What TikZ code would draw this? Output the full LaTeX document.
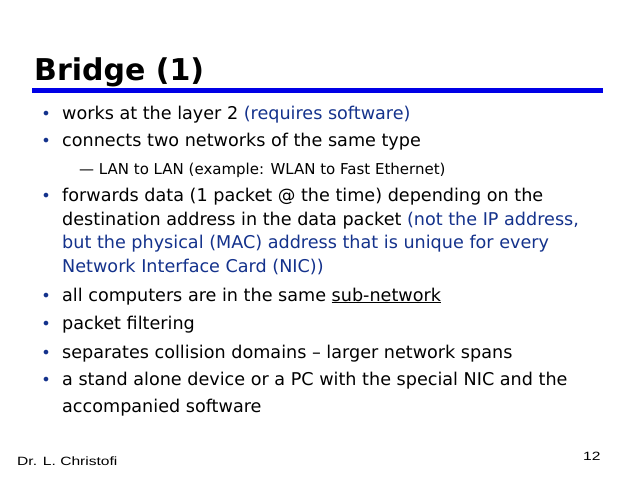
\documentclass[tikz,border=0pt]{standalone}
\usepackage{fontspec}
\setmainfont{DejaVu Sans}
\newfontfamily\arial[FakeStretch=1.3]{Liberation Sans}
\definecolor{bbar}{RGB}{0,0,230}
\definecolor{btxt}{RGB}{20,50,140}
\begin{document}
\begin{tikzpicture}[x=1pt,y=-1pt,
  ln/.style={anchor=base west,inner sep=0pt,font=\fontsize{17.6}{20}\selectfont},
  bul/.style={anchor=base,inner sep=0pt,text=btxt,font=\fontsize{16}{19}\selectfont}]
\useasboundingbox[fill=white] (0,0) rectangle (639,479);
\node[anchor=base west,inner sep=0pt,font=\bfseries\fontsize{30}{34}\selectfont] (title) at (34,80) {Bridge (1)};
\fill[bbar] (32,88) rectangle (603,93);
\foreach \y/\n in {119/a,146/b,201/c,301/d,329/e,358/f,385/g}{\node[bul] (b\n) at (46,\y) {•};}
\node[ln] (l1) at (62,119) {works at the layer 2 \textcolor{btxt}{(requires software)}};
\node[ln] (l2) at (62,146) {connects two networks of the same type};
\node[ln,font=\fontsize{15}{17}\selectfont] (l3) at (79,174) {— LAN to LAN (example: WLAN to Fast Ethernet)};
\node[ln] (l4) at (62,201) {forwards data (1 packet @ the time) depending on the};
\node[ln] (l5) at (62,225) {destination address in the data packet \textcolor{btxt}{(not the IP address,}};
\node[ln,text=btxt] (l6) at (62,248) {but the physical (MAC) address that is unique for every};
\node[ln,text=btxt] (l7) at (62,272) {Network Interface Card (NIC))};
\node[ln] (l8) at (62,301) {all computers are in the same \underline{sub-network}};
\node[ln] (l9) at (62,329) {packet filtering};
\node[ln] (l10) at (62,358) {separates collision domains – larger network spans};
\node[ln] (l11) at (62,385) {a stand alone device or a PC with the special NIC and the};
\node[ln] (l12) at (62,412) {accompanied software};
\node[anchor=base west,inner sep=0pt,font=\arial\fontsize{12}{14}\selectfont] (ft) at (17,465) {Dr. L. Christofi};
\node[anchor=base west,inner sep=0pt,font=\arial\fontsize{12}{14}\selectfont] (pg) at (583,460) {12};
\end{tikzpicture}
\end{document}
